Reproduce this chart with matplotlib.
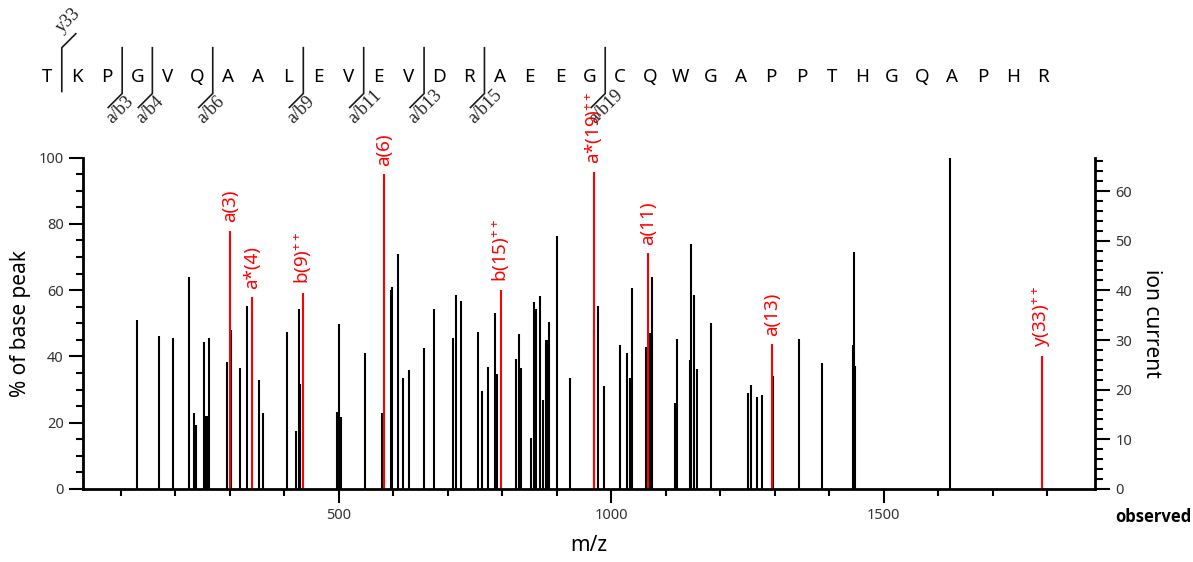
import matplotlib
matplotlib.use("Agg")
import matplotlib.pyplot as plt
from matplotlib.ticker import MultipleLocator, FixedLocator

# ---- spectrum data -------------------------------------------------------
# unassigned peaks: m/z and relative intensity (% of base peak)
peak_mz = [130.5, 170.3, 196.6, 226.0, 234.0, 237.6, 252.8, 256.5, 258.9, 262.6,
           295.0, 303.0, 318.3, 332.3, 353.2, 361.1, 404.5, 421.0, 426.5, 429.6,
           496.9, 500.0, 503.6, 547.7, 580.0, 595.0, 596.8, 609.4, 618.6, 629.0,
           656.0, 675.4, 709.7, 714.6, 723.8, 755.0, 763.5, 774.5, 787.4, 789.9,
           824.7, 830.8, 834.0, 852.3, 859.0, 862.6, 868.8, 874.3, 879.8, 881.5,
           884.6, 885.3, 901.1, 923.8, 969.0, 976.4, 987.4, 1015.6, 1028.4, 1034.5,
           1038.2, 1064.4, 1071.8, 1074.3, 1117.6, 1120.2, 1144.6, 1146.4, 1152.0, 1156.9,
           1183.1, 1251.0, 1257.1, 1267.0, 1276.1, 1297.5, 1344.0, 1386.2, 1443.7, 1445.5,
           1447.3, 1621.0]
peak_pct = [51.0, 46.2, 45.7, 64.1, 22.8, 19.4, 44.3, 22.1, 22.1, 45.7,
            38.2, 47.9, 36.4, 55.1, 32.9, 22.8, 47.5, 17.6, 54.3, 31.6,
            23.3, 49.7, 21.6, 40.9, 22.8, 59.9, 60.8, 70.8, 33.6, 35.9,
            42.6, 54.4, 45.6, 58.4, 56.7, 47.5, 29.7, 36.7, 53.0, 34.7,
            39.1, 46.9, 36.6, 15.5, 56.5, 54.2, 58.3, 26.9, 44.8, 44.8,
            27.6, 50.3, 76.3, 33.5, 48.3, 55.1, 31.2, 43.4, 40.9, 33.4,
            60.5, 42.7, 47.2, 63.9, 26.0, 45.3, 38.9, 74.0, 58.6, 36.2,
            50.2, 29.0, 31.5, 27.8, 28.5, 34.0, 45.2, 38.0, 43.5, 71.5,
            37.1, 100.0]

# assigned fragment ions
ion_mz = [300.0, 340.3, 434.5, 583.7, 798.4, 968.4, 1067.5, 1295.0, 1789.9]
ion_pct = [77.9, 57.9, 59.2, 95.0, 60.0, 95.6, 71.1, 43.7, 40.2]
ion_labels = ["a(3)", "a*(4)", "b(9)$^{++}$", "a(6)", "b(15)$^{++}$",
              "a*(19)$^{++}$", "a(11)", "a(13)", "y(33)$^{++}$"]

# absolute ion current corresponding to 100 % of base peak
base_peak_current = 66.75

# peptide sequence and observed cleavage sites
sequence = list("TKPGVQAALEVEVDRAEEGCQWGAPPTHGQAPHR")
b_sites = [3, 4, 6, 9, 11, 13, 15, 19]
b_labels = ["a/b3", "a/b4", "a/b6", "a/b9", "a/b11", "a/b13", "a/b15", "a/b19"]
y_sites = [33]
y_labels = ["y33"]

# ---- style ---------------------------------------------------------------
W, H = 1193, 562
SANS = "Noto Sans"
plt.rcParams["font.family"] = [SANS, "DejaVu Sans"]
plt.rcParams["mathtext.fontset"] = "custom"
plt.rcParams["mathtext.rm"] = SANS
plt.rcParams["mathtext.it"] = SANS + ":italic"
plt.rcParams["mathtext.bf"] = SANS + ":bold"

RED = "#ff0000"
TICK_GREY = "#333333"

fig = plt.figure(figsize=(W / 100, H / 100), dpi=100)
ax = fig.add_axes([83 / W, 73 / H, 1012.3 / W, 331.5 / H])

ax.vlines(peak_mz, 0, peak_pct, colors="black", linewidth=1.5)
ax.vlines(ion_mz, 0, ion_pct, colors=RED, linewidth=1.5)
for mz, pct, lab in zip(ion_mz, ion_pct, ion_labels):
    ax.annotate(lab, (mz, pct), xytext=(0, 6), textcoords="offset points",
                rotation=90, ha="center", va="bottom", color=RED,
                fontsize=13.5, annotation_clip=False)

ax.set_xlim(30.8, 1888)
ax.set_ylim(0, 100)
ax.xaxis.set_major_locator(FixedLocator([500, 1000, 1500]))
ax.xaxis.set_minor_locator(MultipleLocator(100))
ax.yaxis.set_major_locator(MultipleLocator(20))
ax.yaxis.set_minor_locator(MultipleLocator(5))
ax.tick_params(which="major", length=10, width=1.5, direction="out",
               labelsize=10.5, labelcolor=TICK_GREY, pad=4)
ax.tick_params(which="minor", length=5, width=1.5, direction="out")
for side in ("top", "right"):
    ax.spines[side].set_visible(False)
for side in ("left", "bottom"):
    ax.spines[side].set_linewidth(2)

ax.set_xlabel("m/z", fontsize=15, labelpad=8)
ax.set_ylabel("% of base peak", fontsize=15, labelpad=5)

ax2 = ax.twinx()
ax2.set_ylim(0, base_peak_current)
ax2.yaxis.set_major_locator(MultipleLocator(10))
ax2.yaxis.set_minor_locator(MultipleLocator(2))
ax2.tick_params(which="major", length=10.5, width=1.5, direction="out",
                labelsize=10.5, labelcolor=TICK_GREY, pad=4)
ax2.tick_params(which="minor", length=6, width=1.5, direction="out")
for side in ("top", "left", "bottom"):
    ax2.spines[side].set_visible(False)
ax2.spines["right"].set_linewidth(2)
ax2.set_ylabel("ion current", fontsize=15, rotation=-90, va="bottom", labelpad=6)

fig.text(1115 / W, 1 - 517 / H, "observed", fontsize=12, fontweight="bold",
         family="Open Sans", ha="left", va="center")

# ---- sequence with fragmentation markers ---------------------------------
ov = fig.add_axes([0, 0, 1, 1])
ov.set_xlim(0, W)
ov.set_ylim(H, 0)
ov.axis("off")

seq_x0, seq_step, seq_base = 46.7, 30.19, 81.7
mark_top, mark_bot, hook = 47.7, 93.5, 14
MARK = "#1a1a1a"

for i, aa in enumerate(sequence):
    ov.text(seq_x0 + i * seq_step, seq_base, aa, fontsize=13.5,
            ha="center", va="baseline")

for n, lab in zip(b_sites, b_labels):
    x = seq_x0 + (n - 0.5) * seq_step
    ov.plot([x, x, x - hook], [mark_top, mark_bot, mark_bot + hook],
            color=MARK, lw=1.2, solid_joinstyle="miter")
    ov.text(x - 13, mark_bot + 27.5, lab, fontsize=13, rotation=45,
            rotation_mode="anchor", ha="left", va="center",
            family="Liberation Serif", color="#222222")

for n, lab in zip(y_sites, y_labels):
    x = seq_x0 + (len(sequence) - n - 0.5) * seq_step
    ov.plot([x, x, x + hook], [mark_bot - 2, mark_top, mark_top - hook],
            color=MARK, lw=1.2, solid_joinstyle="miter")
    ov.text(x + 7, mark_top - 27, lab, fontsize=13, rotation=45,
            rotation_mode="anchor", ha="center", va="center",
            family="Liberation Serif", color="#222222")

fig.savefig("out.png", dpi=100)
